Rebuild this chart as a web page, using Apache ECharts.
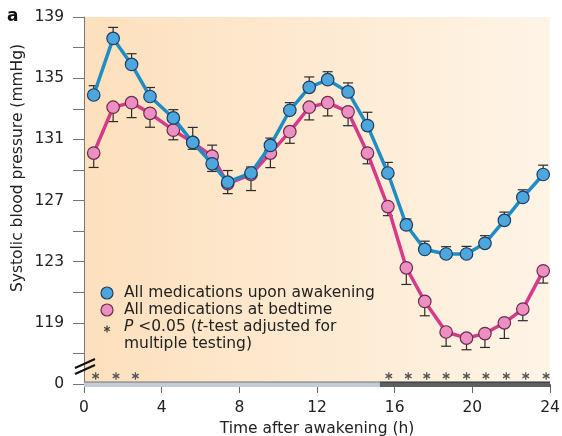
<!DOCTYPE html>
<html>
<head>
<meta charset="utf-8">
<script src="https://cdn.jsdelivr.net/npm/echarts@6/dist/echarts.min.js"></script>
<style>
  html, body { margin: 0; padding: 0; background: #fff; }
  #chart { width: 562px; height: 436px; }
</style>
</head>
<body>
<div id="chart"></div>
<script>
// Hour of each hourly mean after awakening
const hours = [0.5, 1.5, 2.45, 3.4, 4.6, 5.6, 6.6, 7.4, 8.6, 9.6, 10.6, 11.6,
               12.55, 13.6, 14.6, 15.65, 16.6, 17.55, 18.65, 19.7, 20.65, 21.65, 22.6, 23.65];

// Systolic BP (mmHg), all medications upon awakening
const awakening = [133.9, 137.6, 135.9, 133.8, 132.4, 130.8, 129.4, 128.2, 128.8, 130.6, 132.9, 134.4,
                   134.9, 134.1, 131.9, 128.8, 125.4, 123.8, 123.5, 123.5, 124.2, 125.7, 127.2, 128.7];
const awakeningErrUp = [0.61, 0.72, 0.70, 0.59, 0.54, 0.98, 0, 0.76, 0.39, 0.48, 0.50, 0.68,
                        0.52, 0.59, 0.87, 0.69, 0.39, 0.54, 0.48, 0.50, 0.50, 0.54, 0.50, 0.61];
const awakeningErrDown = [0, 0, 0, 0, 0, 0, 0.50, 0, 0, 0, 0, 0,
                          0, 0, 0, 0, 0, 0, 0, 0, 0, 0, 0, 0];

// Systolic BP (mmHg), all medications at bedtime
const bedtime = [130.1, 133.1, 133.4, 132.7, 131.6, 130.8, 129.9, 128.1, 128.7, 130.1, 131.5, 133.1,
                 133.4, 132.8, 130.1, 126.6, 122.6, 120.4, 118.4, 118.0, 118.3, 119.0, 119.9, 122.4];
const bedtimeErrUp = [0, 0, 0, 0, 0, 0, 0.72, 0, 0, 0, 0, 0,
                      0, 0, 0, 0, 0, 0, 0, 0, 0, 0, 0, 0];
const bedtimeErrDown = [0.94, 0.94, 0.98, 0.91, 0.63, 0.45, 0, 0.65, 1.05, 0.95, 0.76, 0.83,
                        0.87, 0.91, 0.70, 0.59, 1.09, 0.94, 0.93, 0.76, 0.91, 1.02, 0.76, 0.80];

// Hours with a significant difference (P < 0.05)
const significantHours = [0.6, 1.65, 2.65, 15.7, 16.7, 17.65, 18.65, 19.7, 20.7, 21.75, 22.75, 23.8];

// Activity (light) and rest (dark) spans along the time axis
const periods = [[0, 15.24, 'activity'], [15.24, 24, 'rest']];

// Y axis: the bottom of the broken axis stands for 0
const yMin = 115, yMax = 139, yStep = 2;
const yLabelValues = [119, 123, 127, 131, 135, 139];
const yBreakLabel = '0';
const xTicks = [0, 4, 8, 12, 16, 20, 24];

const FONT = 'DejaVu Sans';
const BLUE_LINE = '#1f8cc4', BLUE_FILL = '#4da7dd', BLUE_EDGE = '#1b3e66';
const PINK_LINE = '#d83a8b', PINK_FILL = '#ec90c3', PINK_EDGE = '#6e2a4d';

function errorBars(values, up, down, z) {
  return {
    type: 'custom',
    silent: true,
    z: z,
    data: hours.map((h, i) => [h, values[i], up[i], down[i]]),
    encode: { x: 0, y: 1 },
    renderItem(params, api) {
      const x = api.value(0), y = api.value(1);
      const u = api.value(2), d = api.value(3);
      const base = api.coord([x, y]);
      const cap = 5;
      const children = [];
      const style = { stroke: '#2b2b2b', lineWidth: 1.2 };
      [[u, 1], [d, -1]].forEach(([len, dir]) => {
        if (len > 0) {
          const end = api.coord([x, y + dir * len]);
          children.push({ type: 'line', shape: { x1: base[0], y1: base[1], x2: end[0], y2: end[1] }, style });
          children.push({ type: 'line', shape: { x1: end[0] - cap, y1: end[1], x2: end[0] + cap, y2: end[1] }, style });
        }
      });
      return { type: 'group', children };
    }
  };
}

function lineSeries(name, values, line, fill, edge, z) {
  return {
    type: 'line',
    name: name,
    z: z,
    data: hours.map((h, i) => [h, values[i]]),
    symbol: 'circle',
    symbolSize: 12.5,
    lineStyle: { color: line, width: 3.5 },
    itemStyle: { color: fill, borderColor: edge, borderWidth: 1.2 },
    emphasis: { disabled: true }
  };
}

function asteriskShapes(cx, cy, r, color) {
  const out = [];
  for (let k = 0; k < 3; k++) {
    const a = Math.PI / 2 + k * Math.PI / 3;
    out.push({
      type: 'line',
      shape: { x1: cx - r * Math.cos(a), y1: cy - r * Math.sin(a), x2: cx + r * Math.cos(a), y2: cy + r * Math.sin(a) },
      style: { stroke: color, lineWidth: 1.3 }
    });
  }
  return out;
}

const chart = echarts.init(document.getElementById('chart'), null, { renderer: 'canvas' });

const option = {
  animation: false,
  backgroundColor: '#ffffff',
  grid: {
    left: 84, right: 12, top: 17, bottom: 52,
    containLabel: false,
    outerBoundsMode: 'none',
    show: true,
    borderWidth: 0,
    backgroundColor: new echarts.graphic.LinearGradient(0, 0, 1, 0, [
      { offset: 0, color: '#fde0bd' },
      { offset: 1, color: '#fef4e6' }
    ])
  },
  xAxis: {
    type: 'value',
    min: 0, max: 24, interval: 4,
    axisLine: { show: true, lineStyle: { color: '#666', width: 1 } },
    axisTick: { show: true, length: 9, lineStyle: { color: '#666' } },
    axisLabel: {
      margin: 16, color: '#222', fontFamily: FONT, fontSize: 15.5,
      formatter: v => (xTicks.indexOf(v) >= 0 ? String(v) : '')
    },
    splitLine: { show: false },
    name: 'Time after awakening (h)',
    nameLocation: 'middle',
    nameGap: 36,
    nameTextStyle: { color: '#222', fontFamily: FONT, fontSize: 15.5 }
  },
  yAxis: {
    type: 'value',
    min: yMin, max: yMax, interval: yStep,
    axisLine: { show: true, lineStyle: { color: '#777', width: 1 } },
    axisTick: { show: true, length: 11, lineStyle: { color: '#777' } },
    axisLabel: {
      margin: 20, color: '#222', fontFamily: FONT, fontSize: 15.5,
      formatter: v => (v === yMin ? yBreakLabel : (yLabelValues.indexOf(v) >= 0 ? String(v) : ''))
    },
    splitLine: { show: false }
  },
  series: [
    // light / dark bar along the time axis
    {
      type: 'custom',
      silent: true,
      z: 5,
      data: periods,
      encode: { x: [0, 1] },
      renderItem(params, api) {
        const p0 = api.coord([api.value(0), yMin]);
        const p1 = api.coord([api.value(1), yMin]);
        const dark = params.dataIndex === 1;
        return {
          type: 'group',
          children: [
            { type: 'rect', shape: { x: p0[0], y: p0[1] - 2, width: p1[0] - p0[0], height: 5 },
              style: { fill: dark ? '#5c5f64' : '#c6ccd3' } },
            { type: 'line', shape: { x1: p0[0], y1: p0[1] - 2, x2: p1[0], y2: p0[1] - 2 },
              style: { stroke: dark ? '#2e2e2e' : '#6f7378', lineWidth: 1 } }
          ]
        };
      }
    },
    // significance asterisks just above the time axis
    {
      type: 'custom',
      silent: true,
      z: 5,
      data: significantHours.map(h => [h, yMin]),
      encode: { x: 0, y: 1 },
      renderItem(params, api) {
        const p = api.coord([api.value(0), yMin]);
        return { type: 'group', children: asteriskShapes(p[0], p[1] - 8, 3.8, '#555') };
      }
    },
    errorBars(bedtime, bedtimeErrUp, bedtimeErrDown, 2),
    errorBars(awakening, awakeningErrUp, awakeningErrDown, 2),
    lineSeries('All medications at bedtime', bedtime, PINK_LINE, PINK_FILL, PINK_EDGE, 3),
    lineSeries('All medications upon awakening', awakening, BLUE_LINE, BLUE_FILL, BLUE_EDGE, 4)
  ],
  graphic: [
    // panel letter
    { type: 'text', left: 7, top: 8, style: { text: 'a', font: 'bold 17px ' + FONT, fill: '#111' } },
    // y axis title
    {
      type: 'text', x: 18, y: 168, rotation: Math.PI / 2,
      style: { text: 'Systolic blood pressure (mmHg)', font: '15.5px ' + FONT, fill: '#222',
               align: 'center', verticalAlign: 'middle' }
    },
    // axis break marks
    { type: 'line', z: 10, shape: { x1: 75, y1: 368, x2: 95, y2: 359 }, style: { stroke: '#111', lineWidth: 2 } },
    { type: 'line', z: 10, shape: { x1: 75, y1: 374, x2: 95, y2: 365 }, style: { stroke: '#111', lineWidth: 2 } },
    // legend
    { type: 'circle', z: 10, shape: { cx: 107, cy: 293, r: 6 }, style: { fill: BLUE_FILL, stroke: BLUE_EDGE, lineWidth: 1.2 } },
    { type: 'circle', z: 10, shape: { cx: 107, cy: 310, r: 6 }, style: { fill: PINK_FILL, stroke: PINK_EDGE, lineWidth: 1.2 } },
    { type: 'group', z: 10, children: asteriskShapes(107, 329, 3.4, '#444') },
    { type: 'text', z: 10, x: 124, y: 293, style: { text: 'All medications upon awakening', font: '15.5px ' + FONT, fill: '#222', verticalAlign: 'middle' } },
    { type: 'text', z: 10, x: 124, y: 310, style: { text: 'All medications at bedtime', font: '15.5px ' + FONT, fill: '#222', verticalAlign: 'middle' } },
    {
      type: 'text', z: 10, x: 124, y: 327,
      style: {
        text: '{i|P} <0.05 ({i|t}-test adjusted for',
        font: '15.5px ' + FONT, fill: '#222', verticalAlign: 'middle',
        rich: { i: { fontStyle: 'italic', fontFamily: FONT, fontSize: 15.5, fill: '#222' } }
      }
    },
    { type: 'text', z: 10, x: 124, y: 344, style: { text: 'multiple testing)', font: '15.5px ' + FONT, fill: '#222', verticalAlign: 'middle' } }
  ]
};

chart.setOption(option);
</script>
</body>
</html>
